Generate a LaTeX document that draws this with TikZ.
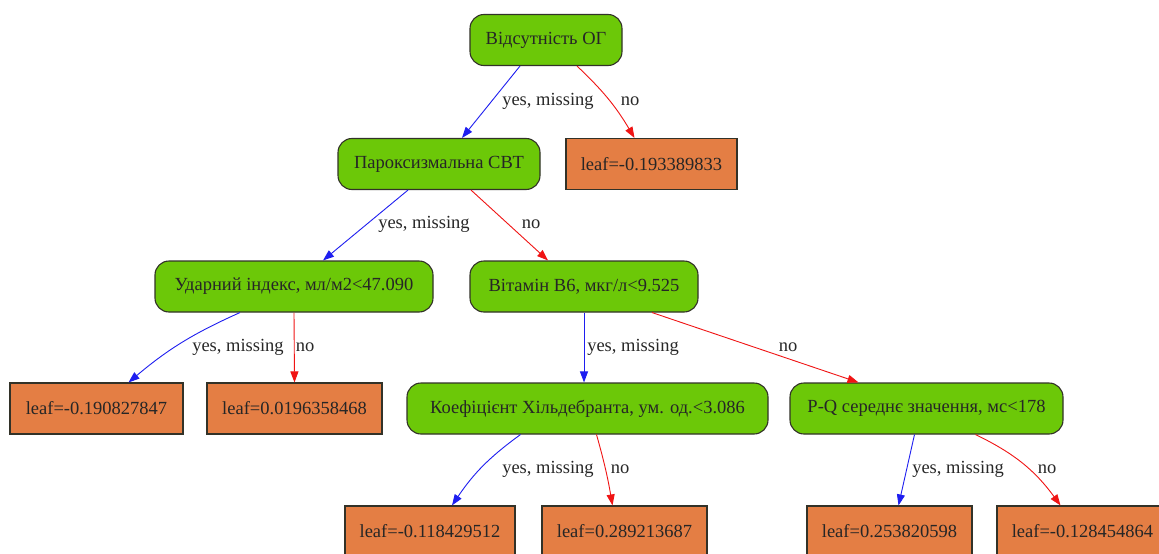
\documentclass[tikz,border=0pt]{standalone}
\usepackage{fontspec}
\setmainfont{Liberation Serif}
\usetikzlibrary{arrows.meta,calc}
\definecolor{splitgreen}{RGB}{108,200,8}
\definecolor{leaforange}{RGB}{228,126,68}
\definecolor{yescol}{RGB}{30,30,240}
\definecolor{nocol}{RGB}{240,20,20}
\definecolor{bordercol}{RGB}{50,50,40}
\definecolor{labelcol}{RGB}{40,40,40}
\tikzset{
  treefont/.style={font=\fontsize{18.5}{22}\selectfont},
  splitnode/.style={treefont, draw=bordercol, line width=1.1pt, fill=splitgreen, rounded corners=14pt, minimum height=51pt, inner sep=0pt, text=black!85},
  leafnode/.style={treefont, draw=bordercol, line width=1.1pt, fill=leaforange, minimum height=51pt, inner sep=0pt, text=black!85},
  yesedge/.style={draw=yescol, line width=0.9pt, -{Triangle[length=11pt,width=8pt]}},
  noedge/.style={draw=nocol, line width=0.9pt, -{Triangle[length=11pt,width=8pt]}},
  elabel/.style={treefont, text=labelcol, inner sep=0pt}
}
\begin{document}
\begin{tikzpicture}[x=1pt,y=-1pt]
\useasboundingbox (0,0) rectangle (1159,554);
\clip (0,0) rectangle (1159,554);
\fill[white] (0,0) rectangle (1159,554);
% split nodes
\node[splitnode, minimum width=152pt] (root) at (546,40) {Відсутність ОГ};
\node[splitnode, minimum width=202pt] (parox) at (439,164) {Пароксизмальна СВТ};
\node[splitnode, minimum width=278pt] (udar) at (294,286.5) {Ударний індекс, мл/м2<47.090};
\node[splitnode, minimum width=228pt] (vit) at (584,286.5) {Вітамін В6, мкг/л<9.525};
\node[splitnode, minimum width=361pt] (koef) at (587.5,408.5) {Коефіцієнт Хільдебранта, ум. од.<3.086};
\node[splitnode, minimum width=273pt] (pq) at (926.5,408.5) {P-Q середнє значення, мс<178};
% leaves
\node[leafnode, minimum width=171pt] (l1) at (651.5,164) {leaf=-0.193389833};
\node[leafnode, minimum width=173pt] (l2) at (96.5,408.5) {leaf=-0.190827847};
\node[leafnode, minimum width=175pt] (l3) at (294.5,408.5) {leaf=0.0196358468};
\node[leafnode, minimum width=170pt] (l4) at (430,531.5) {leaf=-0.118429512};
\node[leafnode, minimum width=165pt] (l5) at (624.5,531.5) {leaf=0.289213687};
\node[leafnode, minimum width=165pt] (l6) at (889.5,531.5) {leaf=0.253820598};
\node[leafnode, minimum width=171pt] (l7) at (1082.5,531.5) {leaf=-0.128454864};
% edges
\draw[yesedge] ([xshift=-26pt]root.south) -- ([xshift=23pt]parox.north);
\draw[noedge] ([xshift=31pt]root.south) to[bend left=8] ([xshift=-17pt]l1.north);
\draw[yesedge] ([xshift=-31pt]parox.south) -- ([xshift=29pt]udar.north);
\draw[noedge] ([xshift=32pt]parox.south) -- ([xshift=-36pt]vit.north);
\draw[yesedge] ([xshift=-54pt]udar.south) to[bend right=8] ([xshift=32pt]l2.north);
\draw[noedge] (udar.south) -- (l3.north);
\draw[yesedge] (vit.south) -- ([xshift=-3.5pt]koef.north);
\draw[noedge] ([xshift=68pt]vit.south) -- ([xshift=-68pt]pq.north);
\draw[yesedge] ([xshift=-67pt]koef.south) to[bend right=10] ([xshift=22pt]l4.north);
\draw[noedge] ([xshift=9pt]koef.south) to[bend left=3] ([xshift=-12pt]l5.north);
\draw[yesedge] ([xshift=-12pt]pq.south) -- ([xshift=9pt]l6.north);
\draw[noedge] ([xshift=49pt]pq.south) to[bend left=14] ([xshift=-22pt]l7.north);
% edge labels
\node[elabel] (e1y) at (548,101) {yes, missing};
\node[elabel] (e1n) at (630,101) {no};
\node[elabel] (e2y) at (424,224) {yes, missing};
\node[elabel] (e2n) at (531,224) {no};
\node[elabel] (e3y) at (238,347) {yes, missing};
\node[elabel] (e3n) at (305,347) {no};
\node[elabel] (e4y) at (633,347) {yes, missing};
\node[elabel] (e4n) at (788,347) {no};
\node[elabel] (e5y) at (548,469) {yes, missing};
\node[elabel] (e5n) at (620,469) {no};
\node[elabel] (e6y) at (958,469) {yes, missing};
\node[elabel] (e6n) at (1047,469) {no};
\end{tikzpicture}
\end{document}
